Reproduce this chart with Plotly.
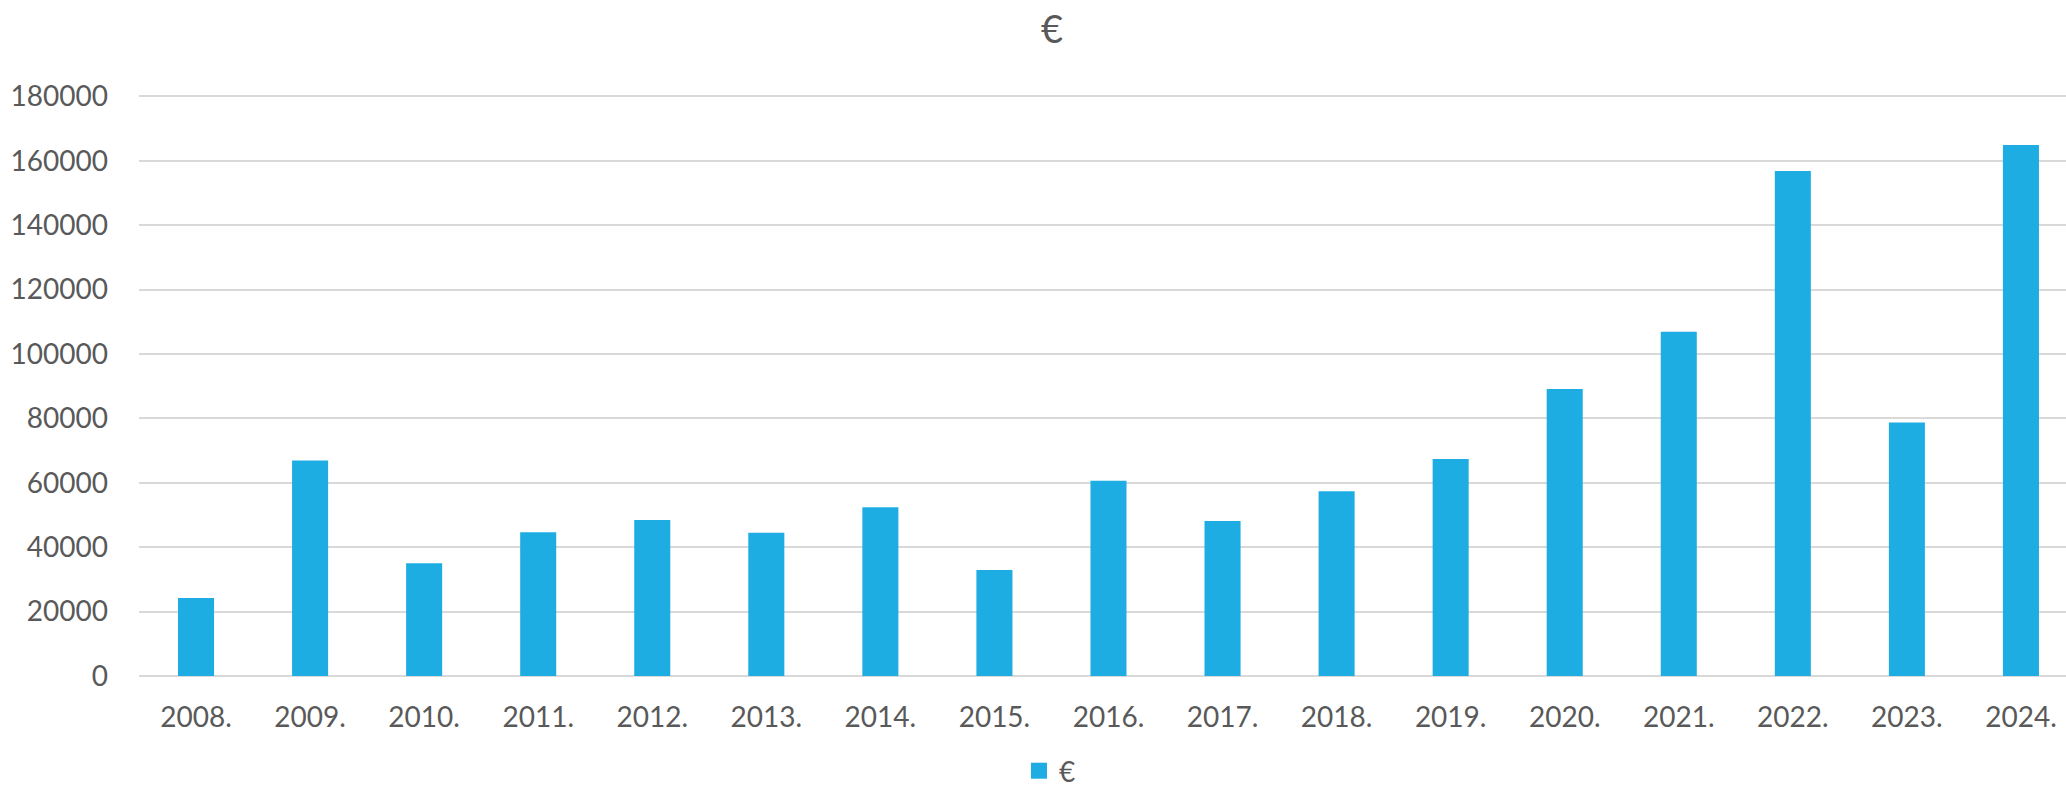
import plotly.graph_objects as go

years = ["2008.", "2009.", "2010.", "2011.", "2012.", "2013.", "2014.", "2015.",
         "2016.", "2017.", "2018.", "2019.", "2020.", "2021.", "2022.", "2023.", "2024."]
values = [24200, 66900, 35000, 44600, 48400, 44500, 52400, 32900,
          60600, 48100, 57400, 67400, 89100, 106900, 156800, 78700, 164900]
y_ticks = [0, 20000, 40000, 60000, 80000, 100000, 120000, 140000, 160000, 180000]

W, H = 2066, 791
font_family = "Lato, 'Noto Sans', sans-serif"
text_color = "#595959"
grid_color = "#D9D9D9"
bar_color = "#1EADE3"

fig = go.Figure()
fig.add_trace(go.Bar(
    x=years, y=values, name="€", showlegend=False,
    marker=dict(color=bar_color, line=dict(width=0)),
    width=0.316,
))
# legend entry with a larger square swatch
fig.add_trace(go.Scatter(
    x=[None], y=[None], mode="markers", name="€",
    marker=dict(symbol="square", size=18, color=bar_color),
))

fig.update_layout(
    width=W, height=H,
    margin=dict(l=139, r=0, t=95, b=115),
    paper_bgcolor="white", plot_bgcolor="white",
    font=dict(family=font_family, color=text_color, size=28),
    title=dict(text="€", x=1052 / W, xref="container", xanchor="center",
               y=1 - 30 / H, yref="container", yanchor="middle",
               font=dict(size=38, color=text_color, family=font_family)),
    showlegend=True,
    legend=dict(orientation="h", xref="container", x=1050 / W, xanchor="center",
                yref="container", y=1 - 771 / H, yanchor="middle",
                font=dict(size=28, color=text_color), itemwidth=30,
                itemsizing="trace", borderwidth=0),
    bargap=0.684,
)
fig.update_xaxes(
    type="category", range=[-0.5, 16.395],
    showgrid=False, showline=False, ticks="",
    ticklabelstandoff=22,
    tickfont=dict(size=28, color=text_color),
)
fig.update_yaxes(
    range=[0, 180400], tickvals=y_ticks, ticktext=[str(v) for v in y_ticks],
    showgrid=True, gridcolor=grid_color, gridwidth=2,
    zeroline=True, zerolinecolor=grid_color, zerolinewidth=2,
    showline=False, ticks="",
    ticklabelstandoff=30,
    tickfont=dict(size=28, color=text_color),
)

fig.write_html("out.html")
